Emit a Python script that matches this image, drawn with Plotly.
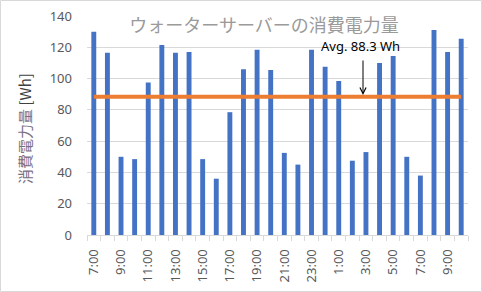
import plotly.graph_objects as go

# ---- data ----
hours = ["7:00", "8:00", "9:00", "10:00", "11:00", "12:00", "13:00", "14:00",
         "15:00", "16:00", "17:00", "18:00", "19:00", "20:00", "21:00", "22:00",
         "23:00", "0:00", "1:00", "2:00", "3:00", "4:00", "5:00", "6:00",
         "7:00", "8:00", "9:00", "10:00"]
power_wh = [130, 116.5, 50, 48.5, 97.5, 121.5, 116.5, 117,
            48.5, 36, 78.5, 106, 118.5, 105.5, 52.5, 45,
            118.5, 107.5, 98.5, 47.5, 53, 110, 114.5, 50,
            38, 131, 117, 125.5]
avg_wh = 88.3
title_text = "ウォーターサーバーの消費電力量"
avg_label = "Avg. 88.3 Wh"

W, H = 482, 292
ML, MR, MT, MB = 87, 14, 16, 57
PW, PH = W - ML - MR, H - MT - MB

idx = list(range(len(hours)))
tick_idx = idx[::2]
tick_txt = [hours[i] for i in tick_idx]

def px_x(p):
    return (p - ML) / PW

def px_y(p):
    return 1 - (p - MT) / PH

fig = go.Figure()
fig.add_trace(go.Bar(x=idx, y=power_wh, marker_color="#4472C4",
                     marker_line_width=0, showlegend=False))
fig.add_trace(go.Scatter(x=idx, y=[avg_wh] * len(idx), mode="lines",
                         line=dict(color="#ED7D31", width=4), showlegend=False))

tick_font = dict(family="Noto Sans, Open Sans, sans-serif", size=13, color="#595959")

fig.update_layout(
    width=W, height=H,
    margin=dict(l=ML, r=MR, t=MT, b=MB, pad=0, autoexpand=False),
    paper_bgcolor="white", plot_bgcolor="white",
    bargap=0.64,
    title=dict(text=title_text, x=264 / W, y=1 - 26 / H, xanchor="center",
               yanchor="middle", xref="container", yref="container",
               font=dict(family="Noto Sans CJK JP", size=18, color="#9a9a9a")),
    xaxis=dict(range=[-0.5, len(idx) - 0.5], tickmode="array",
               tickvals=tick_idx, ticktext=tick_txt, tickangle=-90,
               ticks="", showgrid=False, zeroline=False, automargin=False,
               showline=True, linecolor="#d9d9d9", linewidth=1,
               tickfont=tick_font, ticklabelstandoff=8,
               minor=dict(tickmode="array",
                          tickvals=[i - 0.5 for i in range(len(idx) + 1)],
                          ticks="outside", ticklen=5, tickcolor="#d9d9d9",
                          tickwidth=1, showgrid=False)),
    yaxis=dict(range=[0, 140], tickmode="linear", tick0=0, dtick=20,
               showgrid=True, gridcolor="#d9d9d9", gridwidth=1,
               zeroline=False, showline=False, ticks="", automargin=False,
               tickfont=tick_font, ticklabelstandoff=14),
    font=dict(family="Noto Sans CJK JP"),
)

# y-axis title
fig.add_annotation(
    xref="paper", yref="paper", x=px_x(24), y=px_y(128),
    text="<span style='color:#7a6f86'>消費電力量</span> <span style='color:#404040'>[Wh]</span>",
    textangle=-90, showarrow=False, xanchor="center", yanchor="middle",
    font=dict(family="Noto Sans CJK JP", size=15, color="#595959"))

# average label and arrow
fig.add_annotation(
    xref="paper", yref="paper", x=px_x(360), y=px_y(46),
    text=avg_label, showarrow=False, xanchor="center", yanchor="middle",
    font=dict(family="Noto Sans, Open Sans, sans-serif", size=13, color="#000000"))
fig.add_annotation(
    xref="paper", yref="paper", x=px_x(363), y=px_y(95),
    axref="pixel", ayref="pixel", ax=0, ay=-36,
    text="", showarrow=True, arrowhead=5, arrowsize=1.2, arrowwidth=1,
    arrowcolor="#000000", standoff=0, startstandoff=0)

# chart border
fig.add_shape(type="rect", xref="paper", yref="paper",
              x0=px_x(0.5), x1=px_x(W - 0.5), y0=px_y(H - 0.5), y1=px_y(0.5),
              line=dict(color="#d9d9d9", width=1), fillcolor="rgba(0,0,0,0)",
              layer="below")

fig.write_html("out.html")
